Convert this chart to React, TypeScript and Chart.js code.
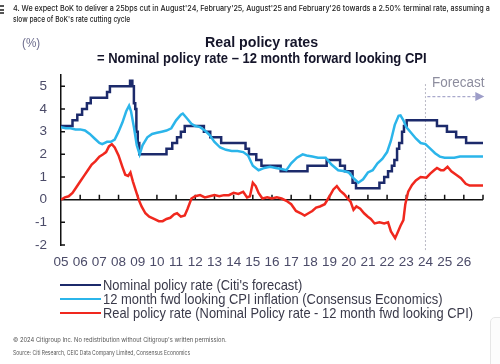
import React, { useEffect, useLayoutEffect, useRef } from "react";
import { Chart, registerables } from "chart.js";

Chart.register(...registerables);

// Nominal policy rate: [date (decimal year), new level from that date]
const nominalDates = [2005.0, 2005.6, 2005.85, 2006.1, 2006.35, 2006.55, 2007.4, 2007.55, 2008.6, 2008.72, 2008.8, 2008.87, 2008.93, 2009.0, 2009.08, 2010.5, 2010.8, 2011.05, 2011.25, 2011.45, 2012.45, 2012.78, 2013.35, 2014.62, 2014.8, 2015.18, 2015.45, 2016.45, 2017.85, 2018.85, 2019.55, 2019.8, 2020.2, 2020.38, 2021.6, 2021.85, 2022.05, 2022.25, 2022.38, 2022.52, 2022.63, 2022.78, 2022.88, 2023.02, 2024.6, 2025.12, 2025.6, 2026.12, 2027.0];
const nominalValues = [3.25, 3.5, 3.75, 4.0, 4.25, 4.5, 4.75, 5.0, 5.25, 5.0, 4.25, 4.0, 3.0, 2.5, 2.0, 2.25, 2.5, 2.75, 3.0, 3.25, 3.0, 2.75, 2.5, 2.25, 2.0, 1.75, 1.5, 1.25, 1.5, 1.75, 1.5, 1.25, 0.75, 0.5, 0.75, 1.0, 1.25, 1.5, 1.75, 2.25, 2.5, 3.0, 3.25, 3.5, 3.25, 3.0, 2.75, 2.5, 2.5];

// 12 month forward looking CPI inflation
const cpiDates = [2005.0, 2005.25, 2005.5, 2005.75, 2006.0, 2006.25, 2006.5, 2006.75, 2007.0, 2007.15, 2007.4, 2007.6, 2007.8, 2008.0, 2008.2, 2008.4, 2008.55, 2008.65, 2008.8, 2008.95, 2009.1, 2009.25, 2009.5, 2009.75, 2010.0, 2010.25, 2010.5, 2010.75, 2011.0, 2011.25, 2011.35, 2011.55, 2011.8, 2012.0, 2012.25, 2012.5, 2012.75, 2013.0, 2013.3, 2013.6, 2013.9, 2014.2, 2014.5, 2014.75, 2015.0, 2015.3, 2015.6, 2015.9, 2016.2, 2016.5, 2016.75, 2017.0, 2017.3, 2017.6, 2017.8, 2018.1, 2018.4, 2018.8, 2019.1, 2019.45, 2019.8, 2020.0, 2020.25, 2020.5, 2020.75, 2021.0, 2021.25, 2021.5, 2021.75, 2022.0, 2022.2, 2022.4, 2022.6, 2022.7, 2022.85, 2023.0, 2023.25, 2023.5, 2023.75, 2024.0, 2024.25, 2024.5, 2024.75, 2025.0, 2025.5, 2025.8, 2026.25, 2027.0];
const cpiValues = [3.2, 3.15, 3.15, 3.1, 3.1, 3.05, 2.9, 2.7, 2.5, 2.45, 2.55, 2.55, 2.65, 3.0, 3.4, 3.9, 4.15, 3.9, 3.2, 2.4, 2.0, 2.4, 2.75, 2.9, 2.95, 3.0, 3.05, 3.15, 3.5, 3.75, 3.8, 3.6, 3.35, 3.25, 3.2, 3.05, 2.85, 2.55, 2.3, 2.2, 2.15, 2.15, 2.1, 1.95, 1.5, 1.3, 1.4, 1.45, 1.4, 1.35, 1.3, 1.6, 1.85, 2.0, 1.95, 1.9, 1.85, 1.85, 1.55, 1.3, 1.25, 1.2, 0.95, 0.75, 0.9, 1.2, 1.3, 1.6, 1.8, 2.1, 2.6, 3.3, 3.7, 3.72, 3.5, 3.2, 2.95, 2.7, 2.5, 2.45, 2.25, 2.05, 1.9, 1.85, 1.85, 1.9, 1.9, 1.9];

// Real policy rate
const realDates = [2005.0, 2005.2, 2005.4, 2005.6, 2005.8, 2006.0, 2006.2, 2006.4, 2006.6, 2006.8, 2007.0, 2007.2, 2007.35, 2007.5, 2007.65, 2007.8, 2008.0, 2008.2, 2008.35, 2008.5, 2008.62, 2008.75, 2008.9, 2009.05, 2009.2, 2009.4, 2009.6, 2009.85, 2010.1, 2010.3, 2010.5, 2010.7, 2010.9, 2011.05, 2011.25, 2011.45, 2011.6, 2011.8, 2012.0, 2012.25, 2012.5, 2012.75, 2013.0, 2013.25, 2013.5, 2013.75, 2014.0, 2014.25, 2014.5, 2014.7, 2014.85, 2015.0, 2015.15, 2015.3, 2015.5, 2015.75, 2016.0, 2016.25, 2016.5, 2016.75, 2017.0, 2017.25, 2017.5, 2017.7, 2017.9, 2018.1, 2018.3, 2018.5, 2018.75, 2019.0, 2019.2, 2019.38, 2019.55, 2019.75, 2019.95, 2020.1, 2020.25, 2020.4, 2020.6, 2020.8, 2021.0, 2021.15, 2021.35, 2021.6, 2021.85, 2022.05, 2022.2, 2022.42, 2022.55, 2022.7, 2022.85, 2022.95, 2023.1, 2023.3, 2023.5, 2023.75, 2024.05, 2024.25, 2024.45, 2024.6, 2024.8, 2024.95, 2025.15, 2025.35, 2025.6, 2025.85, 2026.1, 2026.3, 2027.0];
const realValues = [0.0, 0.1, 0.15, 0.3, 0.55, 0.8, 1.05, 1.3, 1.55, 1.7, 1.9, 2.0, 2.1, 2.35, 2.45, 2.3, 1.95, 1.45, 1.1, 1.05, 1.2, 0.8, 0.4, 0.0, -0.3, -0.6, -0.75, -0.85, -0.95, -0.95, -0.85, -0.8, -0.65, -0.6, -0.75, -0.7, -0.4, 0.05, 0.15, 0.2, 0.1, 0.15, 0.2, 0.15, 0.2, 0.2, 0.3, 0.25, 0.35, 0.1, 0.15, 0.75, 0.6, 0.3, 0.05, 0.1, 0.05, 0.1, 0.05, -0.05, -0.2, -0.5, -0.6, -0.7, -0.6, -0.5, -0.35, -0.3, -0.2, 0.15, 0.45, 0.6, 0.4, 0.25, 0.05, -0.1, -0.45, -0.3, -0.4, -0.6, -0.75, -0.85, -1.05, -1.0, -1.05, -1.0, -1.4, -1.7, -1.45, -1.15, -0.9, -0.2, 0.35, 0.65, 0.85, 1.0, 0.97, 1.15, 1.3, 1.4, 1.3, 1.3, 1.45, 1.25, 1.1, 0.95, 0.7, 0.62, 0.62];

const yearTicks = [2005, 2006, 2007, 2008, 2009, 2010, 2011, 2012, 2013, 2014, 2015, 2016, 2017, 2018, 2019, 2020, 2021, 2022, 2023, 2024, 2025, 2026];
const yTicks = [-2, -1, 0, 1, 2, 3, 4, 5];
const forecastStart = 2024;

const NAVY = "#1c2a6b";
const CYAN = "#2bb5ea";
const RED = "#f0281e";
const SANS = "'Liberation Sans', Arial, sans-serif";

const toPoints = (xs: number[], ys: number[]) => xs.map((x, i) => ({ x, y: ys[i] }));

const decorPlugin = {
  id: "decor",
  beforeDatasetsDraw(chart: any) {
    const { ctx, scales } = chart;
    const x = scales.x;
    const y = scales.y;
    ctx.save();
    const y0 = y.getPixelForValue(0);
    ctx.strokeStyle = "#111";
    ctx.lineWidth = 1.5;
    ctx.beginPath();
    ctx.moveTo(x.getPixelForValue(2005), y0);
    ctx.lineTo(x.getPixelForValue(2027), y0);
    for (let yr = 2006; yr <= 2027; yr++) {
      const px = x.getPixelForValue(yr);
      ctx.moveTo(px, y0);
      ctx.lineTo(px, y0 - 5);
    }
    const ax = x.getPixelForValue(2005);
    yTicks.forEach((v) => {
      const py = y.getPixelForValue(v);
      ctx.moveTo(ax, py);
      ctx.lineTo(ax + 4, py);
    });
    ctx.stroke();
    // forecast divider
    const fx = x.getPixelForValue(forecastStart);
    ctx.strokeStyle = "#b8b8c4";
    ctx.lineWidth = 1;
    ctx.setLineDash([2, 2]);
    ctx.beginPath();
    ctx.moveTo(fx, y.getPixelForValue(5.1));
    ctx.lineTo(fx, y.getPixelForValue(-2.25));
    ctx.stroke();
    // forecast arrow
    const ay = y.getPixelForValue(4.55);
    const ax1 = x.getPixelForValue(2024.1);
    const ax2 = x.getPixelForValue(2026.6);
    ctx.strokeStyle = "#a9a9cc";
    ctx.lineWidth = 1.2;
    ctx.setLineDash([3, 2]);
    ctx.beginPath();
    ctx.moveTo(ax1, ay);
    ctx.lineTo(ax2, ay);
    ctx.stroke();
    ctx.setLineDash([]);
    ctx.fillStyle = "#9d9dc8";
    ctx.beginPath();
    ctx.moveTo(ax2, ay - 4.5);
    ctx.lineTo(ax2 + 9, ay);
    ctx.lineTo(ax2, ay + 4.5);
    ctx.closePath();
    ctx.fill();
    ctx.restore();
  },
};

function RateChart() {
  const ref = useRef<HTMLCanvasElement | null>(null);
  useEffect(() => {
    if (!ref.current) return;
    const chart = new Chart(ref.current, {
      type: "line",
      data: {
        datasets: [
          {
            label: "12 month fwd looking CPI inflation (Consensus Economics)",
            data: toPoints(cpiDates, cpiValues),
            borderColor: CYAN,
            borderWidth: 2.5,
            pointRadius: 0,
            tension: 0,
          },
          {
            label: "Nominal policy rate (Citi's forecast)",
            data: toPoints(nominalDates, nominalValues),
            borderColor: NAVY,
            borderWidth: 2.5,
            pointRadius: 0,
            stepped: true,
          },
          {
            label: "Real policy rate (Nominal Policy rate - 12 month fwd looking CPI)",
            data: toPoints(realDates, realValues),
            borderColor: RED,
            borderWidth: 2.5,
            pointRadius: 0,
            tension: 0,
          },
        ],
      },
      options: {
        animation: false,
        responsive: false,
        devicePixelRatio: 1,
        layout: { padding: { left: 0, top: 75, right: 17, bottom: 89 } },
        plugins: { legend: { display: false }, tooltip: { enabled: false } },
        scales: {
          x: {
            type: "linear",
            min: 2005,
            max: 2027,
            afterBuildTicks: (s: any) => {
              s.ticks = yearTicks.map((v) => ({ value: v }));
            },
            afterFit: (s: any) => {
              s.height = 30;
            },
            grid: { display: false, drawTicks: false },
            border: { display: false },
            ticks: {
              autoSkip: false,
              maxRotation: 0,
              padding: 9,
              color: "#4b4b68",
              font: { family: SANS, size: 13.5 },
              callback: (v: any) => String(Number(v) % 100).padStart(2, "0"),
            },
          },
          y: {
            min: -2,
            max: 5.5,
            afterBuildTicks: (s: any) => {
              s.ticks = yTicks.map((v) => ({ value: v }));
            },
            afterFit: (s: any) => {
              s.width = 61;
            },
            grid: { display: false, drawTicks: false },
            border: { display: true, color: "#111", width: 1.5 },
            ticks: {
              padding: 14,
              color: "#4b4b68",
              font: { family: SANS, size: 13.5 },
            },
          },
        },
      },
      plugins: [decorPlugin],
    } as any);
    return () => chart.destroy();
  }, []);
  return <canvas ref={ref} width={500} height={364} style={{ position: "absolute", left: 0, top: 0 }} />;
}

// Text fitted horizontally to a given width (compresses like a condensed face)
function FitText(props: { left: number; top: number; width: number; style: React.CSSProperties; children: React.ReactNode }) {
  const ref = useRef<HTMLSpanElement | null>(null);
  useLayoutEffect(() => {
    const el = ref.current;
    if (!el) return;
    el.style.transform = "none";
    const w = el.offsetWidth;
    if (w > 0) el.style.transform = `scaleX(${props.width / w})`;
  });
  return (
    <span
      ref={ref}
      style={{
        position: "absolute",
        left: props.left,
        top: props.top,
        whiteSpace: "nowrap",
        display: "inline-block",
        transformOrigin: "0 0",
        ...props.style,
      }}
    >
      {props.children}
    </span>
  );
}

export default function App() {
  const legend = [
    { color: NAVY, text: "Nominal policy rate (Citi's forecast)", top: 276, width: 199 },
    { color: CYAN, text: "12 month fwd looking CPI inflation (Consensus Economics)", top: 290, width: 340 },
    { color: RED, text: "Real policy rate (Nominal Policy rate - 12 month fwd looking CPI)", top: 304, width: 370 },
  ];
  const legendLineY = [285, 299, 313];
  const small = { fontFamily: "Inter, 'Noto Sans', sans-serif", color: "#555" };
  return (
    <div style={{ position: "fixed", left: 0, top: 0, width: 500, height: 364, background: "#fff", overflow: "hidden", fontFamily: SANS }}>
      <RateChart />
      <div style={{ position: "absolute", left: 0, top: 5, width: 4, height: 9, borderTop: "2px solid #555", borderBottom: "2px solid #555", boxSizing: "border-box" }}>
        <div style={{ marginTop: 1.5, height: 2, background: "#555" }} />
      </div>
      <FitText left={13} top={3} width={477} style={{ ...small, fontSize: 8, lineHeight: "11px", color: "#222", fontWeight: 500 }}>
        4. We expect BoK to deliver a 25bps cut in August'24, February'25, August'25 and February'26 towards a 2.50% terminal rate, assuming a
      </FitText>
      <FitText left={13} top={14} width={117} style={{ ...small, fontSize: 8, lineHeight: "11px", color: "#222", fontWeight: 500 }}>
        slow pace of BoK's rate cutting cycle
      </FitText>
      <FitText left={22} top={35} width={18} style={{ fontSize: 13, color: "#6b6b8c" }}>(%)</FitText>
      <FitText left={205} top={33} width={113} style={{ fontSize: 15, fontWeight: 700, color: "#15152a" }}>Real policy rates</FitText>
      <FitText left={97} top={49} width={330} style={{ fontSize: 15, fontWeight: 700, color: "#15152a" }}>= Nominal policy rate – 12 month forward looking CPI</FitText>
      <FitText left={432} top={74} width={52} style={{ fontSize: 14, color: "#8d8d9e" }}>Forecast</FitText>
      {legend.map((l, i) => (
        <React.Fragment key={l.text}>
          <div style={{ position: "absolute", left: 60, top: legendLineY[i] - 1.25, width: 41, height: 2.5, background: l.color }} />
          <FitText left={103} top={l.top} width={l.width} style={{ fontSize: 15, color: "#3a3a4a", lineHeight: "17px" }}>{l.text}</FitText>
        </React.Fragment>
      ))}
      <FitText left={13} top={336} width={214} style={{ ...small, fontSize: 6, lineHeight: "8px" }}>
        © 2024 Citigroup Inc. No redistribution without Citigroup's written permission.
      </FitText>
      <FitText left={13} top={349} width={177} style={{ ...small, fontSize: 6, lineHeight: "8px" }}>
        Source: Citi Research, CEIC Data Company Limited, Consensus Economics
      </FitText>
      <div style={{ position: "absolute", left: 490, top: 317, width: 30, height: 60, border: "1px solid #e6e6e6", borderRadius: 5, background: "#fcfcfc" }} />
    </div>
  );
}
